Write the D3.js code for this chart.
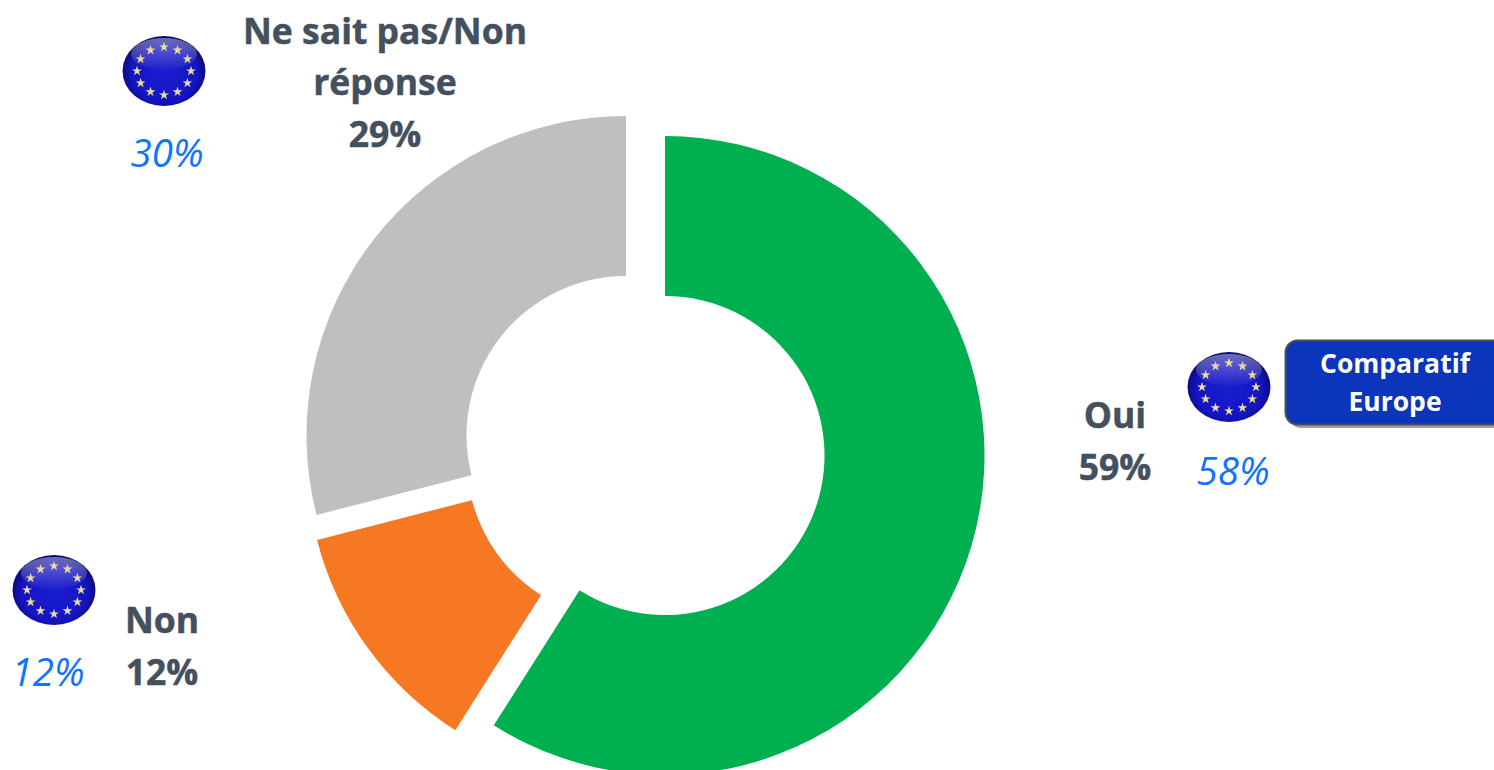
<!DOCTYPE html>
<html><head><meta charset="utf-8">
<script src="https://cdn.jsdelivr.net/npm/d3@7/dist/d3.min.js"></script>
<style>html,body{margin:0;padding:0;background:#fff;overflow:hidden}svg{display:block}</style>
</head><body><svg id="c" width="1494" height="770"></svg>
<script>
const categories = ["Oui","Non","Ne sait pas/Non réponse"];
const values = [59,12,29];
const europeValues = [58,12,30];
const colors = ["#00b050","#f77823","#bfbfbf"];
const sliceCenters = [[665,455.5],[626.5,460.5],[626,435.5]];
const labelLines = [[["Oui",1115,428],["59%",1115,480]],[["Non",162,633],["12%",162,685]],[["Ne sait pas/Non",385,44],["réponse",385,95],["29%",385,147]]];
const europeLabelPos = [[1233,485],[48,686],[167,167]];
const flagPos = [[1229,387],[54,590],[164,71]];

const svg = d3.select("#c");
const defs = svg.append("defs");
const grad = defs.append("radialGradient").attr("id","eu").attr("cx","50%").attr("cy","55%").attr("r","55%");
grad.append("stop").attr("offset","0%").attr("stop-color","#1a1ed2");
grad.append("stop").attr("offset","72%").attr("stop-color","#1414c0");
grad.append("stop").attr("offset","100%").attr("stop-color","#08086e");
const gloss = defs.append("linearGradient").attr("id","gl").attr("x1",0).attr("y1",0).attr("x2",0).attr("y2",1);
gloss.append("stop").attr("offset","0%").attr("stop-color","#fff").attr("stop-opacity",0.4);
gloss.append("stop").attr("offset","100%").attr("stop-color","#fff").attr("stop-opacity",0.02);

const pie = d3.pie().sort(null).value(d=>d)(values);
const arc = d3.arc().innerRadius(159.5).outerRadius(319.5);
svg.selectAll("path.slice").data(pie).join("path").attr("class","slice")
  .attr("transform",(d,i)=>`translate(${sliceCenters[i]})`)
  .attr("d",arc).attr("fill",(d,i)=>colors[i]);

const labels = svg.append("g").attr("font-family","'Open Sans',sans-serif").attr("font-weight",700)
  .attr("font-size",35.5).attr("text-anchor","middle").attr("fill","#44505e")
  .attr("stroke","#44505e").attr("stroke-width",0.5);
labels.selectAll("text").data(labelLines.flat()).join("text")
  .attr("x",d=>d[1]).attr("y",d=>d[2]).text(d=>d[0]);

svg.append("g").attr("font-family","'Open Sans',sans-serif").attr("font-style","italic")
  .attr("font-size",38.5).attr("text-anchor","middle").attr("fill","#0f74ff")
  .selectAll("text").data(europeValues).join("text")
  .attr("x",(d,i)=>europeLabelPos[i][0]).attr("y",(d,i)=>europeLabelPos[i][1]).text(d=>d+"%");

const starAngles = d3.range(12).map(i=>i*Math.PI/6);
const star = d3.symbol().type(d3.symbolStar).size(30);
flagPos.forEach(p=>{
  const g = svg.append("g").attr("transform",`translate(${p})`);
  g.append("ellipse").attr("rx",41.5).attr("ry",35).attr("fill","url(#eu)");
  g.append("ellipse").attr("cy",-17).attr("rx",33).attr("ry",16).attr("fill","url(#gl)");
  g.selectAll("path").data(starAngles).join("path").attr("d",star)
    .attr("transform",a=>`translate(${Math.sin(a)*27},${-Math.cos(a)*24})`).attr("fill","#ecdc9c");
});

const badge = svg.append("g");
badge.append("rect").attr("x",1289).attr("y",344).attr("width",230).attr("height",84).attr("rx",12).attr("fill","#a0a0a0");
badge.append("rect").attr("x",1285.5).attr("y",340.5).attr("width",230).attr("height",84).attr("rx",12)
  .attr("fill","#0b35bb").attr("stroke","#4b4f57").attr("stroke-width",2);
badge.append("g").attr("font-family","'Open Sans',sans-serif").attr("font-weight",700).attr("font-size",26.5)
  .attr("fill","#fff").attr("text-anchor","middle")
  .selectAll("text").data(["Comparatif","Europe"]).join("text")
  .attr("x",1395).attr("y",(d,i)=>373+i*38).text(d=>d);
</script></body></html>
